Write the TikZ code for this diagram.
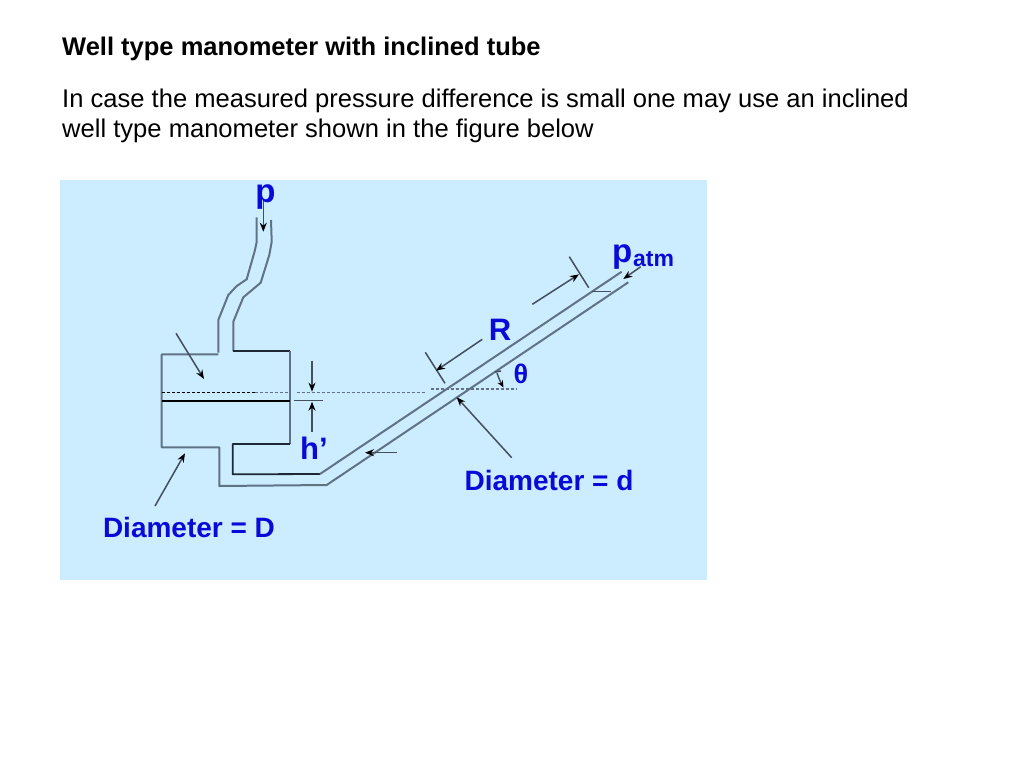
\documentclass[tikz,border=0pt]{standalone}
\usepackage{fontspec}
\setmainfont{Liberation Sans}
\usetikzlibrary{arrows.meta}
\definecolor{panel}{HTML}{CCECFF}
\definecolor{lab}{HTML}{0A0AD8}
\definecolor{gline}{HTML}{5F7383}
\definecolor{dline}{HTML}{1C2833}
\tikzset{
  x=1pt,y=-1pt,
  txt/.style={anchor=base west,inner sep=0pt,text=black,font=\fontsize{25.57}{26}\selectfont},
  ttl/.style={txt,font=\bfseries\fontsize{25.5}{26}\selectfont},
  lbl/.style={anchor=center,inner sep=0pt,text=lab,font=\bfseries\fontsize{28}{28}\selectfont},
  wall/.style={draw=gline,line width=2pt,line join=round},
  wallk/.style={draw=dline,line width=1.8pt,line join=round},
  thin/.style={draw=gline!70!black,line width=1.5pt},
  arr/.style={thin,-{Stealth[length=9pt,width=7pt,color=black]}},
  dash1/.style={draw=gline,line width=1.2pt,dash pattern=on 3pt off 2pt},
}
\begin{document}
\begin{tikzpicture}
\useasboundingbox (0,0) rectangle (1024,768);
\fill[white] (0,0) rectangle (1024,768);
\fill[panel] (60,180) rectangle (707,580);
\node[ttl] (title) at (62,55.5) {Well type manometer with inclined tube};
\node[txt] (l1) at (62,107) {In case the measured pressure difference is small one may use an inclined};
\node[txt] (l2) at (62,137) {well type manometer shown in the figure below};
% feed pipe
\draw[wall] (256.7,217.3) -- (256.7,241.7) -- (255,250) -- (246.7,279.3) -- (236.7,286) -- (228.3,295) -- (218.3,320) -- (218.3,352.7);
\draw[wall] (271,220) -- (271.7,241.7) -- (269.3,255) -- (260.7,282.7) -- (250,291.7) -- (243.3,297.3) -- (233.3,321.7) -- (233.3,351);
% well
\draw[wall] (218.3,354.3) -- (161.7,354.3) -- (161.7,447.3) -- (219.3,447.3) -- (219.3,486) -- (326.7,485) -- (628.3,282.3);
\draw[wallk] (233.3,351) -- (290,351);
\draw[wall] (290,351) -- (290,444);
\draw[wallk] (290,444) -- (232.7,444) -- (232.7,474.3) -- (320,474);
\draw[wall] (320,474) -- (621.7,271.7);
% levels
\draw[draw=black,line width=1.8pt] (161.7,400.7) -- (290,400.7);
\draw[draw=black,line width=1.3pt,dash pattern=on 3pt off 2pt] (161.7,392.3) -- (255,392.3);
\draw[dash1] (255,392.3) -- (290,392.3);
\draw[dash1] (296.7,392.3) -- (425,392.3);
\draw[dash1] (430.7,389) -- (516.7,389);
\draw[thin] (294,400.7) -- (322.7,400.7);
% dimension h'
\coordinate (ha) at (312,360.7); \coordinate (hb) at (312,391.7);
\coordinate (hc) at (312,431.7); \coordinate (hd) at (312,401.7);
\draw[arr] (ha) -- (hb);
\draw[arr] (hc) -- (hd);
% leader arrows
\coordinate (wa) at (176,333.3); \coordinate (wb) at (204,379);
\draw[arr] (wa) -- (wb);
\coordinate (da) at (155,506); \coordinate (db) at (185,453.3);
\draw[arr] (da) -- (db);
\coordinate (fa) at (397.3,452.7); \coordinate (fb) at (365,452.7);
\draw[arr] (fa) -- (fb);
\coordinate (ea) at (511.7,457.7); \coordinate (eb) at (456.7,397.3);
\draw[arr] (ea) -- (eb);
\coordinate (pa) at (263.3,200); \coordinate (pb) at (263.3,231.7);
\draw[arr] (pa) -- (pb);
\coordinate (qa) at (640.7,266.7); \coordinate (qb) at (623.3,279);
\draw[arr] (qa) -- (qb);
% dimension R
\draw[thin] (425.3,352.3) -- (445,383.3);
\draw[thin] (569.3,256.7) -- (588.7,287.7);
\coordinate (ra) at (482.3,339.3); \coordinate (rb) at (436,370.7);
\draw[arr] (ra) -- (rb);
\coordinate (rc) at (532.3,304.3); \coordinate (rd) at (579,274.3);
\draw[arr] (rc) -- (rd);
\draw[thin] (591.7,291.3) -- (610.7,291.3);
% angle
\draw[thin] (495,372) -- (501,371);
\draw[draw=gline!70!black,line width=1.4pt,-{Stealth[length=7pt,width=6pt,color=black]}] (497,373) .. controls (499,379) and (501,383) .. (503.5,387.5);
% labels
\node[lbl,anchor=base,font=\bfseries\fontsize{33}{33}\selectfont] (lp) at (265.5,202) {p};
\node[lbl,anchor=base,font=\bfseries\fontsize{31}{31}\selectfont] (lh) at (314,459.5) {h’};
\node[lbl,anchor=base,font=\bfseries\fontsize{31}{31}\selectfont] (lr) at (500,340) {R};
\node[lbl,anchor=base,font=\bfseries\fontsize{27}{27}\selectfont] (lt) at (521,383) {θ};
\node[lbl,anchor=base west,font=\bfseries\fontsize{33}{33}\selectfont] (lpa) at (612,262) {p};
\node[lbl,anchor=base west,font=\bfseries\fontsize{23}{23}\selectfont] (lpb) at (633,266) {atm};
\node[lbl] (ld) at (549,480) {Diameter = d};
\node[lbl] (lD) at (189,527) {Diameter = D};
\end{tikzpicture}
\end{document}
